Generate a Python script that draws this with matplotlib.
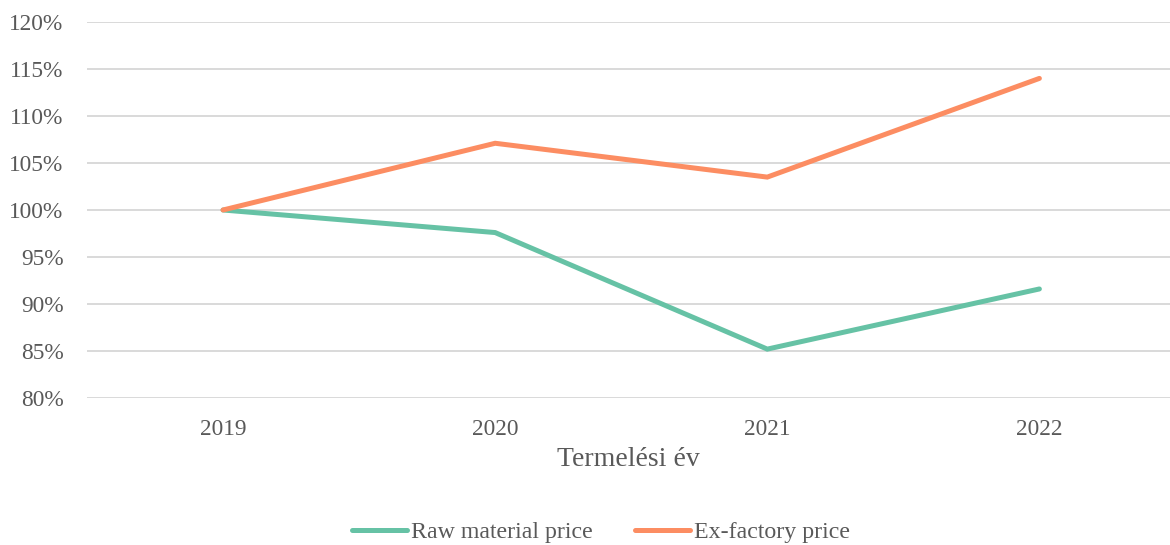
import matplotlib.pyplot as plt
from matplotlib.ticker import FuncFormatter

years = ['2019', '2020', '2021', '2022']
raw_material = [100.0, 97.6, 85.2, 91.6]
ex_factory = [100.0, 107.1, 103.5, 114.0]

plt.rcParams['font.family'] = ['Liberation Serif', 'DejaVu Serif']
text_col = '#595959'

fig = plt.figure(figsize=(11.7, 5.45), dpi=100)
ax = fig.add_axes([87 / 1170, 1 - 398 / 545, 1 - 87 / 1170, (398 - 22) / 545])

x = range(len(years))
ax.plot(x, raw_material, color='#66C2A5', linewidth=3.6, solid_capstyle='round',
        solid_joinstyle='miter', label='Raw material price', zorder=3)
ax.plot(x, ex_factory, color='#FC8D62', linewidth=3.6, solid_capstyle='round',
        solid_joinstyle='miter', label='Ex-factory price', zorder=4)

ax.set_xlim(-0.5, 3.48)
ax.set_ylim(80, 120)
ax.set_yticks(range(80, 121, 5))
ax.yaxis.set_major_formatter(FuncFormatter(lambda v, p: f'{v:.0f}%'))
ax.set_xticks(list(x))
ax.set_xticklabels(years)
ax.grid(axis='y', color='#D9D9D9', linewidth=1.4)
ax.set_axisbelow(True)
for s in ax.spines.values():
    s.set_visible(False)
ax.tick_params(length=0, labelsize=16.8, colors=text_col)
ax.tick_params(axis='y', pad=17)
ax.tick_params(axis='x', pad=15)
ax.set_xlabel('Termelési év', fontsize=20, color=text_col, labelpad=5)

leg = fig.legend(loc='center', bbox_to_anchor=(601 / 1170, 1 - 532 / 545), ncol=2,
                 frameon=False, fontsize=17.2, handlelength=2.3, handletextpad=0.15,
                 columnspacing=1.8)
for t in leg.get_texts():
    t.set_color(text_col)

plt.savefig('out.png', dpi=100)
